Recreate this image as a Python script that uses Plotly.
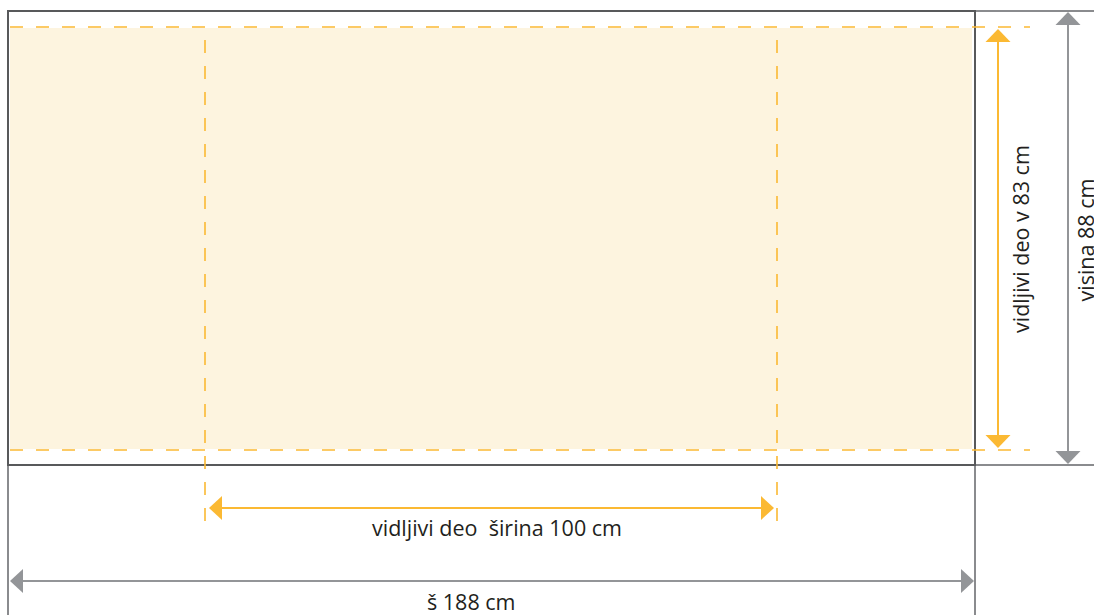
import plotly.graph_objects as go

# ---- data (dimension values and their labels) ----
dims_cm = [188, 100, 88, 83]
dim_names = ["total_width", "visible_width", "total_height", "visible_height"]
labels = ["š 188 cm", "vidljivi deo\u00a0 širina 100 cm", "visina 88 cm", "vidljivi deo v 83 cm"]

# ---- layout geometry (pixel coordinate system of the drawing) ----
W, H = 1094, 615
outer = dict(x0=8, x1=975, y0=11, y1=465)
fill = dict(x0=10, x1=972, y0=28, y1=449)
dash_h_y = [27, 450]
dash_h_x = [10, 1030]
dash_v_x = [205, 777]
dash_v_y = [40, 528]

YELLOW = "#FBB933"
GRAY = "#939598"
DARK = "#58595B"
CREAM = "#FDF4DF"
TEXT = "#231F20"

shapes = []
# cream area
shapes.append(dict(type="rect", xref="x", yref="y", layer="below", line=dict(width=0),
                   fillcolor=CREAM, **fill))
# extension lines (gray)
ext = [
    (outer["x1"], outer["y0"], W, outer["y0"]),
    (outer["x1"], outer["y1"], W, outer["y1"]),
    (outer["x0"], outer["y1"], outer["x0"], H),
    (outer["x1"], outer["y1"], outer["x1"], H),
]
for x0, y0, x1, y1 in ext:
    shapes.append(dict(type="line", xref="x", yref="y", x0=x0, y0=y0, x1=x1, y1=y1,
                       line=dict(color="#8A8B8E", width=2)))
# outer rectangle
shapes.append(dict(type="rect", xref="x", yref="y", line=dict(color=DARK, width=2),
                   fillcolor="rgba(0,0,0,0)", **outer))
# dashed guides
for yy in dash_h_y:
    shapes.append(dict(type="line", xref="x", yref="y", x0=dash_h_x[0], x1=dash_h_x[1], y0=yy, y1=yy,
                       line=dict(color=YELLOW, width=1.6, dash="13px,13px")))
for xx in dash_v_x:
    shapes.append(dict(type="line", xref="x", yref="y", x0=xx, x1=xx, y0=dash_v_y[0], y1=dash_v_y[1],
                       line=dict(color=YELLOW, width=1.6, dash="13px,13px")))


def tri(ax, ay, direction, color, length=13, half=12.5):
    if direction == "up":
        p = f"M {ax},{ay} L {ax-half},{ay+length} L {ax+half},{ay+length} Z"
    elif direction == "down":
        p = f"M {ax},{ay} L {ax-half},{ay-length} L {ax+half},{ay-length} Z"
    elif direction == "left":
        p = f"M {ax},{ay} L {ax+length},{ay-half} L {ax+length},{ay+half} Z"
    else:
        p = f"M {ax},{ay} L {ax-length},{ay-half} L {ax-length},{ay+half} Z"
    return dict(type="path", xref="x", yref="y", path=p, fillcolor=color, line=dict(width=0))


def varrow(x, ytop, ybot, color, lw):
    return [dict(type="line", xref="x", yref="y", x0=x, x1=x, y0=ytop + 8, y1=ybot - 8,
                 line=dict(color=color, width=lw)),
            tri(x, ytop, "up", color), tri(x, ybot, "down", color)]


def harrow(y, xl, xr, color, lw):
    return [dict(type="line", xref="x", yref="y", x0=xl + 8, x1=xr - 8, y0=y, y1=y,
                 line=dict(color=color, width=lw)),
            tri(xl, y, "left", color, half=12), tri(xr, y, "right", color, half=12)]


shapes += varrow(998, 29, 448, YELLOW, 2)
shapes += varrow(1068, 12, 464, GRAY, 2)
shapes += harrow(508, 209, 774, YELLOW, 2)
shapes += harrow(581, 10, 974, GRAY, 2)

font = dict(family="Open Sans, Noto Sans, sans-serif", size=21.5, color=TEXT)
annotations = [
    dict(x=471, y=H, yanchor="bottom", yshift=-3, text=labels[0], showarrow=False, font=font,
         xref="x", yref="y"),
    dict(x=497, y=527, text=labels[1], showarrow=False, font=font, xref="x", yref="y"),
    dict(x=1101 / W, y=240, text=labels[2], showarrow=False, font=font, xref="paper", yref="y",
         textangle=-90),
    dict(x=1020, y=239, text=labels[3], showarrow=False, font=font, xref="x", yref="y", textangle=-90),
]

fig = go.Figure()
fig.add_trace(go.Scatter(x=[0, W], y=[0, H], mode="markers", marker=dict(opacity=0),
                         hoverinfo="skip", showlegend=False))
fig.update_layout(
    width=W, height=H, margin=dict(l=0, r=0, t=0, b=0),
    paper_bgcolor="white", plot_bgcolor="white",
    xaxis=dict(range=[0, W], visible=False, fixedrange=True),
    yaxis=dict(range=[H, 0], visible=False, fixedrange=True),
    shapes=shapes, annotations=annotations, showlegend=False,
)
fig.write_html("out.html", config={"displayModeBar": False},
               post_script="document.body.style.margin='0';document.body.style.overflow='hidden';")
